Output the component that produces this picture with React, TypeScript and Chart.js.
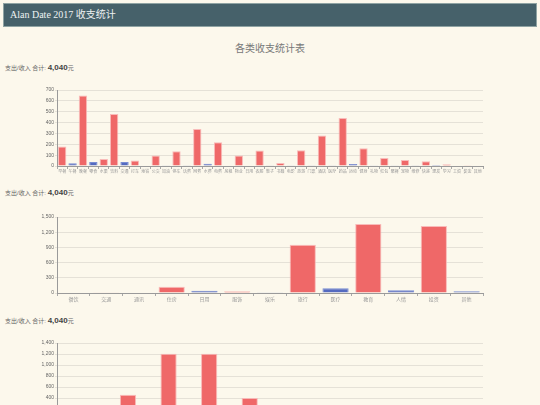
import React, { useEffect, useRef } from 'react';
import { Chart, registerables } from 'chart.js';

Chart.register(...registerables);

const headerTitle = 'Alan Date 2017 收支统计';
const pageHeading = '各类收支统计表';
const sectionLabel = '支出/收入 合计: ';
const sectionTotal = '4,040';
const sectionUnit = '元';

// Chart 1
const chart1Labels = ['早餐', '午餐', '晚餐', '零食', '水果', '饮料', '交通', '打车', '地铁', '公交', '加油', '停车', '话费', '网费', '水费', '电费', '房租', '物业', '日用', '衣服', '鞋子', '书籍', '电影', '旅游', '门票', '酒店', '医疗', '药品', '运动', '健身', '礼物', '红包', '聚餐', '宠物', '维修', '快递', '理发', '学习', '工资', '奖金', '其他'];
const chart1Values = [180, 25, 650, 37, 65, 478, 37, 50, 0, 96, 3, 136, 2, 340, 21, 219, 5, 96, 0, 142, 3, 28, 3, 145, 2, 281, 8, 441, 18, 164, 3, 74, 3, 56, 2, 43, 1, 16, 0, 7, 0];
const chart1Kinds = ['支', '收', '支', '收', '支', '支', '收', '支', '收', '支', '收', '支', '收', '支', '收', '支', '收', '支', '收', '支', '收', '支', '收', '支', '收', '支', '收', '支', '收', '支', '收', '支', '收', '支', '收', '支', '收', '支', '收', '支', '收'];
const chart1Max = 700;
const chart1Step = 100;

// Chart 2
const chart2Labels = ['餐饮', '交通', '通讯', '住房', '日用', '服饰', '娱乐', '旅行', '医疗', '教育', '人情', '投资', '其他'];
const chart2Values = [0, 5, 10, 125, 46, 33, 5, 950, 93, 1360, 53, 1320, 33];
const chart2Kinds = ['收', '支', '收', '支', '收', '支', '收', '支', '收', '支', '收', '支', '收'];
const chart2Max = 1500;
const chart2Step = 300;

// Chart 3
const chart3Labels = ['一日', '二日', '三日', '四日', '五日', '六日', '七日', '八日', '九日', '十日', '十一', '十二', '十三', '十四', '十五', '十六', '十七', '十八', '十九', '二十', '廿一'];
const chart3Values = [20, 150, 30, 460, 40, 1205, 60, 1205, 50, 402, 30, 240, 20, 180, 25, 120, 15, 90, 10, 60, 5];
const chart3Kinds = ['收', '支', '收', '支', '收', '支', '收', '支', '收', '支', '收', '支', '收', '支', '收', '支', '收', '支', '收', '支', '收'];
const chart3Max = 1400;
const chart3Step = 200;

const RED = 'rgb(239,104,104)';
const RED_BORDER = 'rgba(248,180,180,0.9)';
const BLUE = 'rgb(84,106,192)';
const BLUE_BORDER = 'rgb(120,140,210)';
const BG = '#fcf8ec';

type Props = {
  labels: string[];
  values: number[];
  kinds: string[];
  max: number;
  step: number;
  plotHeight: number;
  labelSize: number;
};

function BarChart({ labels, values, kinds, max, step, plotHeight, labelSize }: Props) {
  const ref = useRef<HTMLCanvasElement>(null);
  useEffect(() => {
    if (!ref.current) return;
    const chart = new Chart(ref.current, {
      type: 'bar',
      data: {
        labels,
        datasets: [
          {
            data: values,
            backgroundColor: kinds.map((k) => (k === '支' ? RED : BLUE)),
            borderColor: kinds.map((k) => (k === '支' ? RED_BORDER : BLUE_BORDER)),
            borderWidth: 1,
            barPercentage: 0.8,
            categoryPercentage: 1,
          },
        ],
      },
      options: {
        responsive: false,
        animation: false,
        layout: { padding: { top: 10, right: 7, left: 0, bottom: 0 } },
        plugins: { legend: { display: false }, tooltip: { enabled: false } },
        scales: {
          x: {
            grid: { drawOnChartArea: false, tickLength: 3, color: '#a8a8a8' },
            border: { color: '#9a9a9a' },
            ticks: {
              font: { size: labelSize, family: 'Noto Sans CJK SC' },
              color: '#999',
              autoSkip: false,
              maxRotation: 0,
              minRotation: 0,
              padding: 0,
            },
            afterFit: (s: any) => {
              s.height = 10;
            },
          },
          y: {
            min: 0,
            max,
            ticks: {
              stepSize: step,
              font: { size: 5, family: 'Liberation Sans' },
              color: '#666',
              padding: 1,
            },
            grid: { color: '#e5e1d7', tickLength: 2 },
            border: { color: '#9a9a9a' },
            afterFit: (s: any) => {
              s.width = 57;
            },
          },
        },
      },
    });
    return () => chart.destroy();
  }, []);
  return <canvas ref={ref} width={490} height={plotHeight + 20} style={{ display: 'block' }} />;
}

function Label({ top }: { top: number }) {
  return (
    <div
      style={{
        position: 'absolute',
        left: 5,
        top,
        height: 10,
        lineHeight: '10px',
        fontSize: 8,
        fontWeight: 'bold',
        color: '#444',
        fontFamily: '"Liberation Sans", "Noto Sans CJK SC", sans-serif',
        whiteSpace: 'nowrap',
      }}
    >
      <span style={{ fontWeight: 'normal', color: '#666', fontSize: 6 }}>{sectionLabel}</span>
      <span>{sectionTotal}</span>
      <span style={{ fontWeight: 'normal', color: '#666', fontSize: 6 }}>{sectionUnit}</span>
    </div>
  );
}

export default function App() {
  useEffect(() => {
    document.body.style.margin = '0';
    document.body.style.background = BG;
  }, []);
  return (
    <div style={{ position: 'relative', width: 540, height: 440, background: BG, overflow: 'hidden' }}>
      <div
        style={{
          position: 'absolute',
          left: 3,
          top: 3,
          width: 534,
          height: 24,
          boxSizing: 'border-box',
          background: '#46616a',
          border: '1px solid #8fa3a3',
          color: '#eef2f2',
          fontFamily: '"Liberation Serif", "Noto Sans CJK SC", serif',
          fontSize: 10,
          lineHeight: '22px',
          paddingLeft: 6,
          whiteSpace: 'nowrap',
        }}
      >
        {headerTitle}
      </div>
      <div
        style={{
          position: 'absolute',
          left: 0,
          top: 40,
          width: 540,
          textAlign: 'center',
          fontSize: 10,
          lineHeight: '16px',
          color: '#777',
          fontFamily: '"Noto Sans CJK SC", sans-serif',
        }}
      >
        {pageHeading}
      </div>
      <Label top={63} />
      <div style={{ position: 'absolute', left: 0, top: 80 }}>
        <BarChart labels={chart1Labels} values={chart1Values} kinds={chart1Kinds} max={chart1Max} step={chart1Step} plotHeight={76} labelSize={4} />
      </div>
      <Label top={188} />
      <div style={{ position: 'absolute', left: 0, top: 207 }}>
        <BarChart labels={chart2Labels} values={chart2Values} kinds={chart2Kinds} max={chart2Max} step={chart2Step} plotHeight={76} labelSize={5} />
      </div>
      <Label top={316} />
      <div style={{ position: 'absolute', left: 0, top: 333 }}>
        <BarChart labels={chart3Labels} values={chart3Values} kinds={chart3Kinds} max={chart3Max} step={chart3Step} plotHeight={77} labelSize={5} />
      </div>
    </div>
  );
}
